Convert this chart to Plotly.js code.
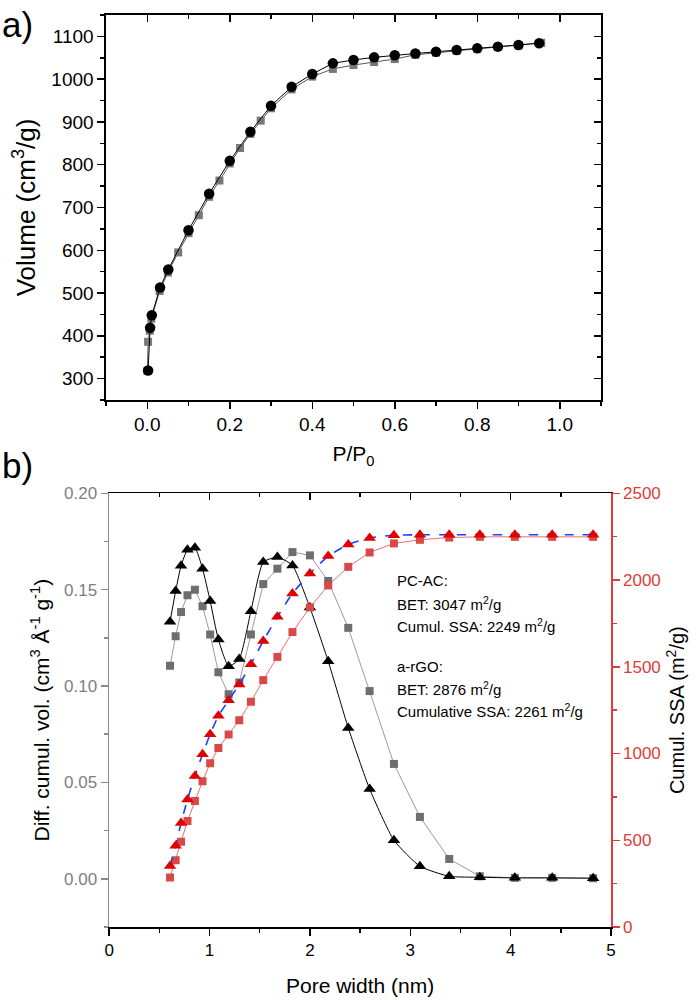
<!DOCTYPE html>
<html>
<head>
<meta charset="utf-8">
<script src="https://cdn.plot.ly/plotly-3.0.1.min.js"></script>
<style>html,body{margin:0;padding:0;background:#fff;}#chart{width:696px;height:1000px;}</style>
</head>
<body>
<div id="chart"></div>
<script>
// ---- Panel a) : isotherm ----
const ppSquares = [0.0005,0.002,0.006,0.01,0.03,0.05,0.075,0.1,0.125,0.15,0.175,0.2,0.225,0.25,0.275,0.3,0.35,0.4,0.45,0.5,0.55,0.6,0.65,0.7,0.75,0.8,0.85,0.9,0.955];
const volSquares = [318,386,412,440,505,548,595,640,682,725,763,803,839,872,903,932,976,1006,1024,1033,1040,1047,1057,1062,1066,1071,1075,1079,1085];
const ppCircles = [0.002,0.007,0.011,0.031,0.051,0.1,0.15,0.2,0.25,0.3,0.35,0.4,0.45,0.5,0.55,0.6,0.65,0.7,0.75,0.8,0.85,0.9,0.95];
const volCircles = [319,419,448,513,555,647,732,809,877,938,982,1012,1037,1045,1051,1056,1060,1064,1068,1072,1076,1080,1084];

// ---- Panel b) : pore size distribution ----
const poreWidth = [0.606,0.662,0.716,0.780,0.854,0.930,1.006,1.088,1.190,1.296,1.412,1.535,1.676,1.826,2.0,2.182,2.382,2.595,2.837,3.096,3.388,3.693,4.042,4.414,4.822];
const diffPCAC = [0.1105,0.1259,0.1384,0.1471,0.1500,0.1414,0.1267,0.1072,0.0957,0.1019,0.1267,0.1529,0.1609,0.1695,0.1678,0.1545,0.1302,0.0974,0.0596,0.0321,0.0103,0.0013,0.0005,0.0005,0.0003];
const diffRGO = [0.1333,0.1493,0.1624,0.1707,0.1717,0.1609,0.1441,0.1241,0.1103,0.1140,0.1388,0.1643,0.1669,0.1626,0.1407,0.1129,0.0783,0.0466,0.0200,0.0065,0.0013,0.0008,0.0005,0.0005,0.0003];
const ssaPCAC = [285,385,492,611,727,840,944,1032,1110,1192,1298,1423,1557,1700,1842,1969,2076,2159,2211,2232,2245,2249,2249,2249,2249];
const ssaRGO = [352,469,600,735,871,996,1111,1217,1307,1398,1515,1649,1788,1923,2038,2138,2205,2243,2258,2261,2261,2261,2261,2261,2261];

const infoLines = ['PC-AC:','BET: 3047 m<sup>2</sup>/g','Cumul. SSA: 2249 m<sup>2</sup>/g','a-rGO:','BET: 2876 m<sup>2</sup>/g','Cumulative SSA: 2261 m<sup>2</sup>/g'];
const infoY = [580.7,603,625.7,666,688,710];

const FONT = 'Liberation Sans, Arial, sans-serif';
const RED = '#e03a3a';
const GRAYAX = '#8a8a8a';

const traces = [
  {x: ppSquares, y: volSquares, xaxis:'x', yaxis:'y', mode:'lines+markers',
   line:{color:'#555', width:1}, marker:{symbol:'square', size:8, color:'#787878'}},
  {x: ppCircles, y: volCircles, xaxis:'x', yaxis:'y', mode:'lines+markers',
   line:{color:'#000', width:1}, marker:{symbol:'circle', size:10.5, color:'#000'}},
  // empty helper traces so the mirrored (inside-tick) axes are drawn
  {x:[], y:[], xaxis:'x3', yaxis:'y', hoverinfo:'skip'},
  {x:[], y:[], xaxis:'x', yaxis:'y4', hoverinfo:'skip'},
  {x:[], y:[], xaxis:'x4', yaxis:'y2', hoverinfo:'skip'},
  // panel b
  {x: poreWidth, y: ssaPCAC, xaxis:'x2', yaxis:'y3', mode:'lines+markers',
   line:{color:'#e87070', width:1}, marker:{symbol:'square', size:8, color:'#d84848'}},
  {x: poreWidth, y: diffPCAC, xaxis:'x2', yaxis:'y2', mode:'lines+markers',
   line:{color:'#9a9a9a', width:1}, marker:{symbol:'square', size:8, color:'#6e6e6e'}},
  {x: poreWidth, y: ssaRGO, xaxis:'x2', yaxis:'y3', mode:'lines+markers',
   line:{color:'#1f3cff', width:1.6, dash:'dash', shape:'spline', smoothing:0.5},
   marker:{symbol:'triangle-up', size:11, color:'#e00000'}},
  {x: poreWidth, y: diffRGO, xaxis:'x2', yaxis:'y2', mode:'lines+markers',
   line:{color:'#000', width:1, shape:'spline', smoothing:0.5},
   marker:{symbol:'triangle-up', size:11, color:'#000'}}
];

const baseAx = {showgrid:false, zeroline:false, showline:true, linewidth:1.6, ticks:'outside', ticklen:7, tickwidth:1.5};

const layout = {
  width:696, height:1000, margin:{l:0,r:0,t:0,b:0}, showlegend:false,
  paper_bgcolor:'#fff', plot_bgcolor:'rgba(0,0,0,0)',
  font:{family:FONT, color:'#000'},
  xaxis: Object.assign({}, baseAx, {
    domain:[106/696, 601/696], anchor:'y', range:[-0.1,1.1], tick0:0, dtick:0.2, tickformat:'.1f',
    linecolor:'#000', tickcolor:'#000',
    minor:{dtick:0.1, ticks:'outside', ticklen:4, tickwidth:1.5, tickcolor:'#000'},
    tickfont:{size:19, color:'#000'},
    title:{text:'P/P<sub>0</sub>', font:{size:21, color:'#000'}, standoff:12}
  }),
  yaxis: Object.assign({}, baseAx, {
    domain:[0.600, 0.985], anchor:'x', range:[250,1150], tick0:0, dtick:100,
    linecolor:'#000', tickcolor:'#000',
    minor:{dtick:50, ticks:'outside', ticklen:4, tickwidth:1.5, tickcolor:'#000'},
    tickfont:{size:19, color:'#000'},
    title:{text:'Volume (cm<sup>3</sup>/g)', font:{size:26, color:'#000'}, standoff:8}
  }),
  xaxis3: {overlaying:'x', side:'top', anchor:'y', range:[-0.1,1.1], tick0:0, dtick:0.2,
    showgrid:false, zeroline:false, showline:true, linewidth:1.6, linecolor:'#000',
    ticks:'inside', ticklen:7, tickwidth:1.5, tickcolor:'#000', showticklabels:false,
    minor:{dtick:0.1, ticks:'inside', ticklen:4, tickwidth:1.5, tickcolor:'#000'}},
  yaxis4: {overlaying:'y', side:'right', anchor:'x', range:[250,1150], tick0:0, dtick:100,
    showgrid:false, zeroline:false, showline:true, linewidth:1.6, linecolor:'#000',
    ticks:'inside', ticklen:7, tickwidth:1.5, tickcolor:'#000', showticklabels:false,
    minor:{dtick:50, ticks:'inside', ticklen:4, tickwidth:1.5, tickcolor:'#000'}},
  xaxis2: Object.assign({}, baseAx, {
    domain:[109.2/696, 611/696], anchor:'y2', range:[0,5], tick0:0, dtick:1,
    linecolor:'#000', tickcolor:'#000',
    minor:{dtick:0.5, ticks:'outside', ticklen:4, tickwidth:1.5, tickcolor:'#000'},
    tickfont:{size:17, color:'#000'},
    title:{text:'Pore width (nm)', font:{size:21, color:'#000'}, standoff:19}
  }),
  yaxis2: Object.assign({}, baseAx, {
    domain:[0.073, 0.5067], anchor:'x2', range:[-0.025,0.2], tick0:0, dtick:0.05, tickformat:'.2f',
    linecolor:GRAYAX, tickcolor:GRAYAX,
    minor:{dtick:0.025, ticks:'outside', ticklen:4, tickwidth:1.5, tickcolor:GRAYAX},
    tickfont:{size:17, color:'#808080'},
    title:{text:'Diff. cumul. vol. (cm<sup>3</sup> Å<sup>-1</sup> g<sup>-1</sup>)', font:{size:21, color:'#000'}, standoff:9}
  }),
  yaxis3: Object.assign({}, baseAx, {
    overlaying:'y2', side:'right', anchor:'x2', range:[0,2500], tick0:0, dtick:500,
    linecolor:RED, tickcolor:RED,
    minor:{dtick:250, ticks:'outside', ticklen:4, tickwidth:1.5, tickcolor:RED},
    tickfont:{size:17, color:RED},
    title:{text:'Cumul. SSA (m<sup>2</sup>/g)', font:{size:20, color:'#000'}, standoff:10}
  }),
  xaxis4: {overlaying:'x2', side:'top', anchor:'y2', range:[0,5], tick0:0, dtick:1,
    showgrid:false, zeroline:false, showline:true, linewidth:1.6, linecolor:'#000',
    ticks:'inside', ticklen:7, tickwidth:1.5, tickcolor:'#000', showticklabels:false,
    minor:{dtick:0.5, ticks:'inside', ticklen:4, tickwidth:1.5, tickcolor:'#000'}},
  annotations: [
    {text:'a)', xref:'paper', yref:'paper', x:0, y:0.997, xanchor:'left', yanchor:'top', showarrow:false, font:{size:35, color:'#000'}},
    {text:'b)', xref:'paper', yref:'paper', x:0, y:1-444/1000, xanchor:'left', yanchor:'top', showarrow:false, font:{size:35, color:'#000'}}
  ].concat(infoLines.map((t,i)=>({
    text:t, xref:'paper', yref:'paper', x:395/696, y:1-infoY[i]/1000, xanchor:'left', yanchor:'middle',
    showarrow:false, font:{size:15, color:'#000'}
  })))
};

Plotly.newPlot('chart', traces, layout, {staticPlot:true, displayModeBar:false});
</script>
</body>
</html>
